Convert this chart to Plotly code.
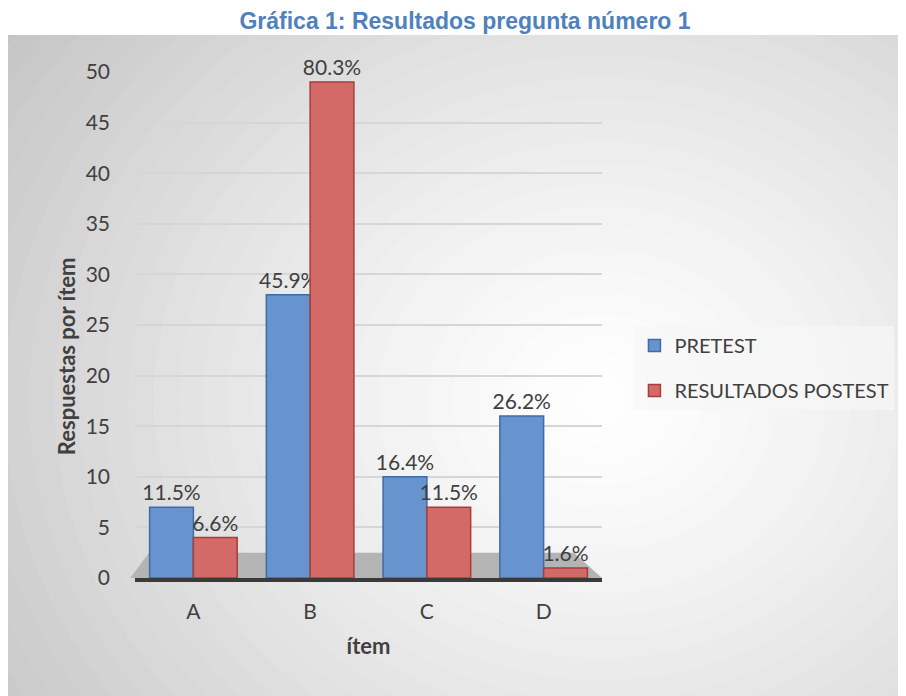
import plotly.graph_objects as go

categories = ["A", "B", "C", "D"]
pretest = [7, 28, 10, 16]
postest = [4, 49, 7, 1]
pretest_labels = ["11.5%", "45.9%", "16.4%", "26.2%"]
postest_labels = ["6.6%", "80.3%", "11.5%", "1.6%"]
y_ticks = [0, 5, 10, 15, 20, 25, 30, 35, 40, 45, 50]

# page offset (body margin) and target pixel layout
OFF = 8
W, H = 906 - OFF, 696 - OFF
PL, PR, PT, PB = 135, 610, 72, 578   # plot area in page pixels
PW, PH = PR - PL, PB - PT

def px_x(p):
    return (p - PL) / PW

def px_y(p):
    return (PB - p) / PH

FONT = "Lato, Calibri, Carlito, sans-serif"
TXT = "#404040"

fig = go.Figure()
fig.add_trace(go.Bar(
    name="PRETEST", x=categories, y=pretest, text=pretest_labels,
    textposition="outside", cliponaxis=False, constraintext="none", legendgroup="a",
    marker=dict(color="#6794CF", line=dict(color="#3F6BA6", width=1.5)),
    textfont=dict(size=21, color=TXT, family=FONT),
))
fig.add_trace(go.Bar(
    name="RESULTADOS POSTEST", x=categories, y=postest, text=postest_labels,
    textposition="outside", cliponaxis=False, constraintext="none", legendgroup="b",
    marker=dict(color="#D46A68", line=dict(color="#A23E3B", width=1.5)),
    textfont=dict(size=21, color=TXT, family=FONT),
))

shapes = []
# radial gradient background of chart area
cx, cy = 610, 400
N = 30
rmax = 760
for i in range(N):
    f = 1 - i / N
    r = rmax * f
    t = f ** 1.3
    c0, c1 = 0xC4, 0xFF
    v = int(round(c1 + (c0 - c1) * t))
    col = f"rgb({v},{v},{v})"
    shapes.append(dict(type="circle", xref="paper", yref="paper",
                       x0=px_x(cx - r), x1=px_x(cx + r),
                       y0=px_y(cy + r * 0.85), y1=px_y(cy - r * 0.85),
                       fillcolor=col, line=dict(width=0), layer="below"))
# white outside of chart area (above it)
shapes.append(dict(type="rect", xref="paper", yref="paper",
                   x0=px_x(-1200), x1=px_x(2200), y0=px_y(35), y1=px_y(-1200),
                   fillcolor="white", line=dict(width=0), layer="below"))
# floor
shapes.append(dict(type="path", xref="x domain", yref="y",
                   path="M -0.01,0 L 1.0,0 L 0.94,2.5 L 0.03,2.5 Z",
                   fillcolor="#B4B4B4", line=dict(width=0), layer="below"))

fig.update_layout(
    width=W, height=H,
    margin=dict(l=PL - OFF, r=906 - PR, t=PT - OFF, b=696 - PB),
    paper_bgcolor="white", plot_bgcolor="rgba(0,0,0,0)",
    font=dict(family=FONT, color=TXT, size=21),
    title=dict(text="<b>Gráfica 1: Resultados pregunta número 1</b>",
               x=(465 - OFF) / W, xanchor="center", y=1 - (21 - OFF) / H, yanchor="middle",
               yref="container", xref="container",
               font=dict(family="Liberation Sans, Arial, sans-serif", size=23, color="#4F81BD")),
    barmode="group", bargap=0.25, bargroupgap=0.0,
    showlegend=True,
    legend=dict(x=px_x(643), xanchor="left", y=px_y(368), yanchor="middle",
                bgcolor="rgba(247,247,247,0.7)", font=dict(size=20, color=TXT, family=FONT),
                tracegroupgap=16, itemclick=False),
    shapes=shapes,
    annotations=[dict(text="<b>Respuestas por ítem</b>", textangle=-90,
                      xref="paper", yref="paper", x=px_x(65), y=px_y(356),
                      xanchor="center", yanchor="middle", showarrow=False,
                      font=dict(size=22, color=TXT, family=FONT))],
    xaxis=dict(showline=True, linecolor="#3A3A3A", linewidth=4, ticks="",
               tickfont=dict(size=21, color=TXT), ticklabelstandoff=12,
               title=dict(text="<b>ítem</b>", font=dict(size=22, color=TXT), standoff=17),
               showgrid=False),
    yaxis=dict(range=[0, 50], tickvals=y_ticks, showgrid=True, gridcolor="#D6D6D6",
               gridwidth=1.5, zeroline=False, showline=False, ticks="",
               tickfont=dict(size=21, color=TXT), ticklabelstandoff=24),
)

fig.write_html("out.html")
